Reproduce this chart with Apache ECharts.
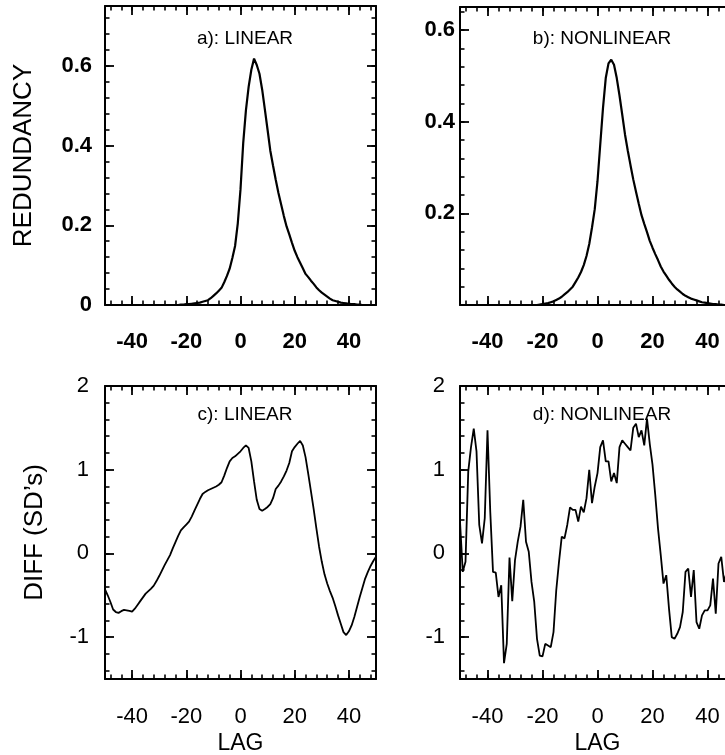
<!DOCTYPE html>
<html lang="en">
<head>
<meta charset="UTF-8">
<title>Redundancy and DIFF against LAG</title>
<script src="https://cdn.jsdelivr.net/npm/echarts@6.0.0/dist/echarts.min.js"></script>
<style>
    html, body { margin: 0; padding: 0; background: #fff; }
    #main { width: 725px; height: 755px; }
</style>
</head>
<body>
<div id="main"></div>
<script>
    // lag values shared by all four panels
    var lags = [-50, -49, -48, -47, -46, -45, -44, -43, -42, -41, -40, -39, -38, -37, -36, -35, -34, -33, -32, -31,
        -30, -29, -28, -27, -26, -25, -24, -23, -22, -21, -20, -19, -18, -17, -16, -15, -14, -13, -12, -11,
        -10, -9, -8, -7, -6, -5, -4, -3, -2, -1, 0, 1, 2, 3, 4, 5, 6, 7, 8, 9,
        10, 11, 12, 13, 14, 15, 16, 17, 18, 19, 20, 21, 22, 23, 24, 25, 26, 27, 28, 29,
        30, 31, 32, 33, 34, 35, 36, 37, 38, 39, 40, 41, 42, 43, 44, 45, 46, 47, 48, 49, 50];

    // a) redundancy, linear
    var redLinear = [0, 0, 0, 0, 0, 0, 0, 0, 0, 0, 0, 0, 0, 0, 0, 0, 0, 0, 0, 0,
        0, 0, 0, 0, 0, 0, 0, 0, 0.001, 0.001, 0.002, 0.002, 0.003, 0.004, 0.005, 0.006, 0.008, 0.010, 0.012, 0.017,
        0.023, 0.029, 0.036, 0.043, 0.057, 0.073, 0.091, 0.118, 0.148, 0.205, 0.29, 0.406, 0.488, 0.547, 0.59, 0.618, 0.602, 0.58, 0.54, 0.49,
        0.439, 0.387, 0.35, 0.314, 0.281, 0.252, 0.223, 0.197, 0.177, 0.156, 0.136, 0.12, 0.106, 0.092, 0.078, 0.07, 0.061, 0.053, 0.044, 0.037,
        0.031, 0.026, 0.021, 0.016, 0.012, 0.010, 0.008, 0.006, 0.005, 0.004, 0.003, 0.002, 0.002, 0.001, 0.001, 0, 0, 0, 0, 0, 0];

    // b) redundancy, nonlinear
    var redNonlinear = [0, 0, 0, 0, 0, 0, 0, 0, 0, 0, 0, 0, 0, 0, 0, 0, 0, 0, 0, 0,
        0, 0, 0, 0, 0, 0, 0, 0, 0, 0.001, 0.002, 0.003, 0.004, 0.006, 0.008, 0.011, 0.014, 0.018, 0.023, 0.028,
        0.034, 0.04, 0.05, 0.06, 0.072, 0.087, 0.107, 0.133, 0.169, 0.209, 0.27, 0.35, 0.43, 0.495, 0.527, 0.535, 0.524, 0.495, 0.457, 0.415,
        0.372, 0.337, 0.305, 0.274, 0.247, 0.221, 0.196, 0.177, 0.159, 0.14, 0.125, 0.111, 0.098, 0.084, 0.073, 0.064, 0.055, 0.047, 0.04, 0.034,
        0.029, 0.024, 0.02, 0.017, 0.014, 0.012, 0.01, 0.008, 0.006, 0.005, 0.004, 0.003, 0.002, 0.002, 0.001, 0.001, 0, 0, 0, 0, 0];

    // c) DIFF, linear
    var diffLinear = [-0.43, -0.50, -0.58, -0.67, -0.70, -0.71, -0.69, -0.675, -0.68, -0.685, -0.695, -0.66, -0.615, -0.57, -0.525, -0.48, -0.45, -0.42, -0.385, -0.33,
        -0.27, -0.205, -0.14, -0.08, -0.02, 0.06, 0.135, 0.21, 0.275, 0.31, 0.345, 0.38, 0.44, 0.51, 0.58, 0.65, 0.71, 0.735, 0.755, 0.77,
        0.785, 0.80, 0.82, 0.85, 0.93, 1.02, 1.10, 1.14, 1.16, 1.19, 1.22, 1.26, 1.29, 1.26, 1.10, 0.86, 0.64, 0.53, 0.51, 0.53,
        0.555, 0.59, 0.66, 0.77, 0.81, 0.86, 0.92, 0.99, 1.08, 1.22, 1.27, 1.31, 1.345, 1.29, 1.15, 0.95, 0.74, 0.53, 0.30, 0.08,
        -0.10, -0.25, -0.36, -0.45, -0.53, -0.63, -0.74, -0.84, -0.94, -0.975, -0.93, -0.86, -0.76, -0.64, -0.52, -0.41, -0.30, -0.22, -0.15, -0.09, -0.04];

    // d) DIFF, nonlinear
    var diffNonlinear = [0.38, -0.22, -0.10, 0.98, 1.27, 1.49, 1.22, 0.34, 0.12, 0.42, 1.47, 0.50, -0.22, -0.23, -0.52, -0.38, -1.31, -1.08, -0.05, -0.57,
        -0.08, 0.14, 0.32, 0.64, 0.14, 0.02, -0.34, -0.58, -1.02, -1.22, -1.23, -1.08, -1.10, -1.12, -0.94, -0.44, -0.10, 0.20, 0.18, 0.34,
        0.55, 0.52, 0.52, 0.38, 0.56, 0.49, 0.66, 1.00, 0.60, 0.80, 0.96, 1.27, 1.35, 1.10, 1.10, 0.86, 0.96, 0.84, 1.27, 1.35,
        1.31, 1.27, 1.23, 1.50, 1.55, 1.39, 1.47, 1.29, 1.61, 1.31, 1.06, 0.70, 0.30, -0.02, -0.36, -0.26, -0.66, -1.00, -1.02, -0.96,
        -0.88, -0.70, -0.22, -0.18, -0.52, -0.20, -0.82, -0.90, -0.74, -0.68, -0.68, -0.62, -0.30, -0.72, -0.12, -0.04, -0.34, -0.22, -0.30, -0.25, -0.20];

    // tick positions
    var lagTicks = [-40, -20, 0, 20, 40];
    var lagMinorTicks = [-48, -44, -40, -36, -32, -28, -24, -20, -16, -12, -8, -4, 0, 4, 8, 12, 16, 20, 24, 28, 32, 36, 40, 44, 48];
    var redTicksA = [0, 0.2, 0.4, 0.6];
    var redTicksB = [0.2, 0.4, 0.6];
    var redMinorTicks = [0.04, 0.08, 0.12, 0.16, 0.2, 0.24, 0.28, 0.32, 0.36, 0.4, 0.44, 0.48, 0.52, 0.56, 0.6, 0.64, 0.68, 0.72];
    var diffTicks = [-1, 0, 1, 2];
    var diffMinorTicks = [-1.4, -1.2, -1, -0.8, -0.6, -0.4, -0.2, 0, 0.2, 0.4, 0.6, 0.8, 1, 1.2, 1.4, 1.6, 1.8];

    var font = 'Liberation Sans, Arial, sans-serif';
    var black = '#000';

    function zip(xs, ys) {
        var out = [];
        for (let i = 0; i < xs.length; i++) {
            out.push([xs[i], ys[i]]);
        }
        return out;
    }

    // two axes per side: a labelled one with the long ticks, and a bare one with the short ticks
    function sideAxes(gi, pos, min, max, major, minor, label, name) {
        var common = {
            type: 'value', gridIndex: gi, position: pos, min: min, max: max,
            splitLine: { show: false }
        };
        var main = Object.assign({}, common, {
            axisLine: { show: true, onZero: false, lineStyle: { color: black, width: 2 } },
            axisTick: { show: true, inside: true, length: 9, customValues: major, lineStyle: { color: black, width: 1.8 } },
            axisLabel: label ? Object.assign({ customValues: major, color: black, fontFamily: font }, label) : { show: false }
        });
        if (name) {
            Object.assign(main, name);
        }
        var small = Object.assign({}, common, {
            axisLine: { show: false, onZero: false },
            axisTick: { show: true, inside: true, length: 4.5, customValues: minor, lineStyle: { color: black, width: 1.6 } },
            axisLabel: { show: false }
        });
        return [main, small];
    }

    var grids = [
        { left: 105, top: 6, width: 271, height: 299 },
        { left: 460, top: 7, width: 275, height: 298 },
        { left: 105, top: 386, width: 271, height: 293 },
        { left: 460, top: 386, width: 275, height: 293 }
    ];

    var xAxis = [];
    var yAxis = [];
    var xIdx = [];
    var yIdx = [];

    var boldX = { fontSize: 22, fontWeight: 'bold', margin: 26 };
    var plainX = { fontSize: 22, fontWeight: 'normal', margin: 27 };
    var lagName = {
        name: 'LAG', nameLocation: 'middle', nameGap: 53,
        nameTextStyle: { fontSize: 23, color: black, fontFamily: font }
    };

    var panels = [
        { ymin: 0, ymax: 0.75, yt: redTicksA, ym: redMinorTicks, xl: boldX, xn: null,
          yl: { fontSize: 22, fontWeight: 'bold', margin: 13 },
          yn: { name: 'REDUNDANCY', nameLocation: 'middle', nameGap: 68,
                nameTextStyle: { fontSize: 26, color: black, fontFamily: font } } },
        { ymin: 0, ymax: 0.65, yt: redTicksB, ym: redMinorTicks, xl: boldX, xn: null,
          yl: { fontSize: 22, fontWeight: 'bold', margin: 5 }, yn: null },
        { ymin: -1.5, ymax: 2, yt: diffTicks, ym: diffMinorTicks, xl: plainX, xn: lagName,
          yl: { fontSize: 22, fontWeight: 'normal', margin: 16 },
          yn: { name: 'DIFF (SD\u2019s)', nameLocation: 'middle', nameGap: 57,
                nameTextStyle: { fontSize: 26, color: black, fontFamily: font } } },
        { ymin: -1.5, ymax: 2, yt: diffTicks, ym: diffMinorTicks, xl: plainX, xn: lagName,
          yl: { fontSize: 22, fontWeight: 'normal', margin: 15 }, yn: null }
    ];

    panels.forEach(function (p, gi) {
        xIdx.push(xAxis.length);
        xAxis = xAxis.concat(sideAxes(gi, 'bottom', -50, 50, lagTicks, lagMinorTicks, p.xl, p.xn));
        xAxis = xAxis.concat(sideAxes(gi, 'top', -50, 50, lagTicks, lagMinorTicks, null, null));
        yIdx.push(yAxis.length);
        yAxis = yAxis.concat(sideAxes(gi, 'left', p.ymin, p.ymax, p.yt, p.ym, p.yl, p.yn));
        yAxis = yAxis.concat(sideAxes(gi, 'right', p.ymin, p.ymax, p.yt, p.ym, null, null));
    });

    var seriesData = [redLinear, redNonlinear, diffLinear, diffNonlinear];
    var series = seriesData.map(function (vals, gi) {
        return {
            type: 'line',
            xAxisIndex: xIdx[gi],
            yAxisIndex: yIdx[gi],
            data: zip(lags, vals),
            showSymbol: false,
            lineStyle: { color: black, width: gi < 2 ? 2.2 : 1.8 },
            z: 5
        };
    });

    var titleStyle = { fontSize: 19, fontWeight: 'normal', color: black, fontFamily: font };
    var title = [
        { text: 'a): LINEAR', left: 240, top: 24, textAlign: 'center', textStyle: titleStyle },
        { text: 'b): NONLINEAR', left: 597, top: 24, textAlign: 'center', textStyle: titleStyle },
        { text: 'c): LINEAR', left: 240, top: 400, textAlign: 'center', textStyle: titleStyle },
        { text: 'd): NONLINEAR', left: 597, top: 400, textAlign: 'center', textStyle: titleStyle }
    ];

    var myChart = echarts.init(document.getElementById('main'), null, { renderer: 'canvas' });
    var option = {
        animation: false,
        backgroundColor: '#fff',
        title: title,
        grid: grids.map(function (g) { return Object.assign({ outerBoundsMode: 'none', containLabel: false }, g); }),
        xAxis: xAxis,
        yAxis: yAxis,
        series: series
    };
    option && myChart.setOption(option);
</script>
</body>
</html>
